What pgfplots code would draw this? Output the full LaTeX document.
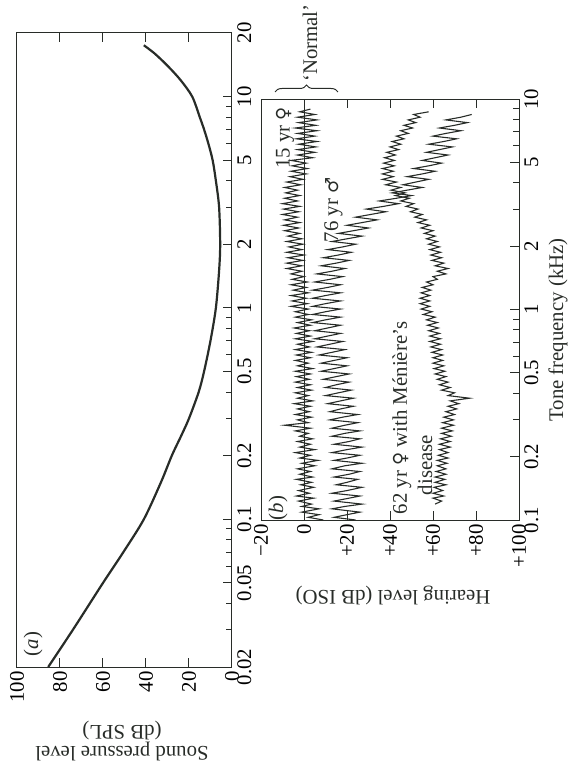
\documentclass[border=0pt]{standalone}
\usepackage{fontspec}
\setmainfont{Liberation Serif}
\newfontfamily\symfont{DejaVu Sans}
\usepackage{pgfplots}
\usepackage{pgfplotstable}
\pgfplotsset{compat=1.18}
\usetikzlibrary{decorations.pathreplacing}
\definecolor{ink}{RGB}{40,44,40}

% (a) threshold of hearing: frequency (kHz) and sound pressure level (dB SPL)
\pgfplotstableread{
f spl
0.02 85.5
0.03 74
0.05 60
0.07 50.5
0.1 41
0.15 33
0.2 28
0.25 23.5
0.3 20
0.4 15.5
0.5 13
0.7 10
1 7.5
1.5 6
2 5.5
3 6
4 7.5
5 9
6 11
7 13
8 15
10 18.5
12 24
14 30
16 36
17.5 41
}\threshold

% (b) Bekesy tracings: frequency (kHz), hearing level (dB ISO)
% young = 15 yr female, old = 76 yr male, men = 62 yr female with Meniere's disease
\pgfplotstableread{
f young old men
0.100 9 24 nan
0.103 2 14 nan
0.106 7 20 nan
0.109 -1 26 nan
0.113 7 13 nan
0.116 -1 19 nan
0.119 3.5 27 61
0.123 -2.5 14 64
0.127 4.5 21 60
0.130 -3.5 26 65
0.134 2.5 13 60
0.138 -2.5 20 64.5
0.143 4.5 27 60.5
0.147 -1.5 15 66
0.151 3.5 20 61
0.156 -3.5 25 65.5
0.160 4 14 61
0.165 -2 21 66
0.170 3 26 61.5
0.175 -3 13 66
0.181 5 19 62
0.186 -1 27 66.5
0.192 6.5 14 62
0.197 -2 20 67
0.203 3 26 62.5
0.209 -4 13 67
0.216 5 20 63
0.222 -2 27 68
0.229 3 14 63
0.236 -3 21 68
0.243 4 26 63.5
0.250 -2 13 68.5
0.258 2 19 64
0.265 -4 26 69
0.273 3 13 64
0.282 -9 19 69.5
0.290 2 25 64.5
0.299 -3 12 69.5
0.308 3.5 18 65
0.317 -4 25 70
0.327 2.5 12 66
0.337 -3 17 71
0.347 3 23 67
0.357 -4.5 11 72
0.368 4 17 68
0.379 -3 23 77
0.390 2 10 67
0.402 -4 16 70
0.414 3.5 22 64
0.426 -3 10 68
0.439 3 15 63
0.452 -4 21 67
0.466 2.5 9 62
0.480 -3.5 15 66
0.494 3 21 61
0.509 -4 8 65.5
0.524 4 14 60.5
0.540 -3 20 65
0.556 2 8 60
0.573 -4 14 64.5
0.590 3 20 60
0.608 -3.5 7 64.5
0.626 3.5 13 59.5
0.645 -4 19 64
0.664 2.5 6 59
0.684 -3 12 63.5
0.705 4 18 58.5
0.726 -4 5 63.5
0.748 3 11 58.5
0.770 -3.5 17 63
0.793 2.5 5 58
0.817 -4.5 11 62.5
0.842 3 17 57.5
0.867 -3 4 62
0.893 3.5 10 57
0.920 -4 17 61
0.947 2 4 55.5
0.976 -4 10 59.5
1.005 2 17 54.5
1.035 -6 4 58.5
1.066 1.5 10 54
1.098 -5.5 17 58.5
1.131 1 4 54
1.165 -6 10 58.5
1.200 2 17 54.5
1.236 -5 4 59
1.273 1 11 55
1.311 -6 17 60
1.351 1.5 5 57
1.391 -5.5 12 62
1.433 0 18 60
1.476 -6 6 66
1.520 -1 13 62
1.566 -8 19 67
1.613 -1 8 61
1.661 -8 15 65
1.711 -0.5 21 59.5
1.762 -7.5 9 64
1.815 0 16 59
1.870 -8 22 63.5
1.926 -1 11 58.5
1.983 -7 18 63
2.043 -0.5 24 58
2.104 -8 13 62
2.167 -1 20 57
2.232 -7.5 27 61
2.299 -2 16 56
2.368 -9 23 60
2.439 -2.5 30 54.5
2.513 -9.5 20 58.5
2.588 -2 27 53
2.666 -9 34 57
2.746 -3 24 51.5
2.828 -10 31 55
2.913 -2.5 38 49.5
3.000 -9.5 29 53
3.090 -2 37 47.5
3.183 -10 44 51
3.278 -3 35 45
3.377 -9 43 49
3.478 -2 50 42.5
3.582 -8.5 41 47
3.690 -3 48 40.5
3.800 -9 55 45
3.914 -1.5 46 38
4.032 -8 52 43
4.153 -0.5 58 36.5
4.277 -6.5 48 41.5
4.406 1 55 36.5
4.538 -6 61 41.5
4.674 1.5 51 36.5
4.814 -5.5 58 42
4.959 1 64 37
5.107 -6 55 42
5.261 4 61 37.5
5.419 -3 67 42.5
5.581 5 57 38.5
5.749 -3 63 44
5.921 5.5 69 40
6.099 -2.5 58 45
6.282 6 65 41
6.470 -3.5 71 46.5
6.664 5 60 43
6.864 -3 66 48.5
7.070 6 73 45
7.282 -4 63 50.5
7.500 5.5 70 46.5
7.725 -2.5 76 52
7.957 6 66 48.5
8.196 -3 73 54
8.442 5 78 51
8.695 -2 nan 58
8.956 3 nan nan
}\bekesy

\pgfplotsset{
  audiopanel/.style={
    scale only axis, anchor=south west,
    tick align=inside,
    axis line style={line width=0.5pt, ink},
    major tick style={ink, line width=0.5pt},
    minor tick style={ink, line width=0.5pt},
    major tick length=4.5pt, minor tick length=3pt,
    xtick pos=both, ytick pos=right,
    xticklabel style={rotate=90, anchor=east, inner sep=2pt},
    yticklabel style={rotate=90, anchor=north, inner sep=2.5pt},
    unbounded coords=jump,
  },
}

\begin{document}
\fontsize{10.4}{12.5}\selectfont
\begin{tikzpicture}
\path[use as bounding box] (0,0) rectangle (287pt,383.5pt);

% (a) sound pressure level at threshold
\begin{axis}[audiopanel, ymode=log,
  at={(8.5pt,50pt)}, width=107.5pt, height=317pt,
  xmin=0, xmax=100, x dir=reverse,
  ymin=0.02, ymax=20,
  xtick={0,20,40,60,80,100}, xticklabels={0,20,40,60,80,100},
  ytick={0.02,0.05,0.1,0.2,0.5,1,2,5,10,20},
  yticklabels={0.02,0.05,0.1,0.2,0.5,1,2,5,10,20},
  minor ytick={0.03,0.04,0.06,0.07,0.08,0.09,0.3,0.4,0.6,0.7,0.8,0.9,3,4,6,7,8,9},
]
\addplot[ink, line width=1.1pt, smooth] table[x=spl, y=f] {\threshold};
\end{axis}

% (b) hearing level tracings
\begin{axis}[audiopanel, ymode=log,
  at={(130.5pt,123.5pt)}, width=129pt, height=210.5pt,
  xmin=-20, xmax=100,
  ymin=0.1, ymax=10,
  xtick={-20,0,20,40,60,80,100},
  xticklabels={−20,0,+20,+40,+60,+80,+100},
  ytick={0.1,0.2,0.5,1,2,5,10},
  yticklabels={0.1,0.2,0.5,1,2,5,10},
  minor ytick={0.3,0.4,0.6,0.7,0.8,0.9,3,4,6,7,8,9},
]
\addplot[ink, line width=0.5pt] coordinates {(0,0.1) (0,10)};
\addplot[ink, line width=0.55pt] table[x=young, y=f] {\bekesy};
\addplot[ink, line width=0.55pt] table[x=old, y=f] {\bekesy};
\addplot[ink, line width=0.55pt] table[x=men, y=f] {\bekesy};
\end{axis}

% axis titles and annotations
\node[rotate=180, align=center, text=ink] at (61pt,13pt) {Sound pressure level\\[-2pt](dB SPL)};
\node[rotate=180, text=ink] at (196.5pt,86pt) {Hearing level (dB ISO)};
\node[rotate=90, text=ink] at (279pt,218.5pt) {Tone frequency (kHz)};
\node[rotate=90, text=ink] at (155pt,362pt) {‘Normal’};
\draw[ink, line width=0.5pt, decorate, decoration={brace, amplitude=3.5pt}] (137.5pt,337.5pt) -- (169pt,337.5pt);
\node[rotate=90, text=ink] at (142.5pt,314.5pt) {15 yr {\symfont\small ♀}};
\node[rotate=90, text=ink] at (166.75pt,278.5pt) {76 yr {\symfont\small ♂}};
\node[rotate=90, text=ink] at (201pt,174.5pt) {62 yr {\symfont\small ♀} with Ménière’s};
\node[rotate=90, text=ink] at (212.5pt,151pt) {disease};
\node[rotate=90, text=ink] at (16.5pt,61.5pt) {(\textit{a})};
\node[rotate=90, text=ink] at (139pt,129.5pt) {(\textit{b})};
\end{tikzpicture}
\end{document}
